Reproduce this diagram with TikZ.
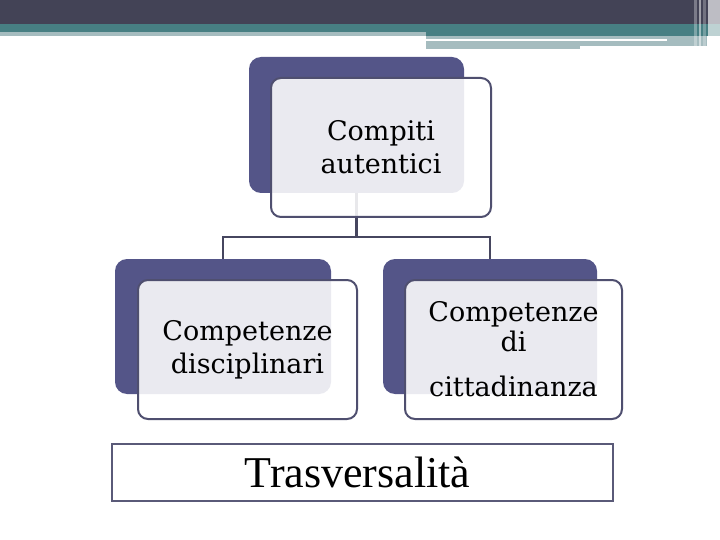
\documentclass[tikz,border=0pt]{standalone}
\usepackage{fontspec}
\setmainfont{DejaVu Serif}
\newfontfamily\timesf{Liberation Serif}
\definecolor{hdrdark}{HTML}{434356}
\definecolor{hdrteal}{HTML}{477F83}
\definecolor{hdrlight}{HTML}{A5BCBF}
\definecolor{backbox}{HTML}{545588}
\definecolor{frontline}{HTML}{4F4F6F}
\definecolor{conn}{HTML}{46465F}
\definecolor{transline}{HTML}{5A5A78}
\tikzset{
  backcard/.style={fill=backbox, rounded corners=12pt, inner sep=0pt},
  frontcard/.style={fill=white, fill opacity=0.88, text opacity=1, draw=frontline, draw opacity=1,
     line width=2pt, rounded corners=10pt, inner sep=0pt, align=center,
     font=\fontsize{27}{33}\selectfont},
  connector/.style={draw=conn, line width=2.7pt},
}
\begin{document}
\begin{tikzpicture}[x=1pt,y=-1pt]
\useasboundingbox (0,0) rectangle (720,540);
\fill[white] (0,0) rectangle (720,540);
% header
\fill[hdrdark] (0,0) rectangle (720,24);
\fill[hdrteal] (0,24) rectangle (426,32);
\fill[hdrlight] (0,32) rectangle (426,36);
\fill[hdrteal] (426,24) rectangle (720,36);
\fill[hdrlight] (426,36) rectangle (707,46);
\fill[white] (426,39) rectangle (667,41);
\fill[hdrlight] (426,46) rectangle (580,49);
\fill[white, opacity=0.3] (694,0) rectangle (697,46);
\fill[white, opacity=0.5] (699,0) rectangle (701,46);
\fill[white, opacity=0.25] (703,0) rectangle (706,46);
\fill[white, opacity=0.65] (708,0) rectangle (720,46);
% back cards
\node[backcard, minimum width=215pt, minimum height=136pt] (tb) at (356.5,125) {};
\node[backcard, minimum width=216pt, minimum height=135pt] (lb) at (223,326.5) {};
\node[backcard, minimum width=214pt, minimum height=135pt] (rb) at (490,326.5) {};
% connectors
\coordinate (bus) at (356.5,237);
\draw[connector] (tb.south) -- (bus);
\draw[connector] (lb.north) |- (bus) -| (rb.north);
% front cards
\node[frontcard, minimum width=220pt, minimum height=139pt] (tf) at (381,147.5) {Compiti\\autentici};
\node[frontcard, minimum width=219pt, minimum height=139pt] (lf) at (247.5,349.5) {Competenze\\disciplinari};
\node[frontcard, minimum width=217pt, minimum height=139pt] (rf) at (513.5,349.5) {Competenze\\[-3pt]di\\[12pt]cittadinanza};
% transversal box
\node[draw=transline, line width=2.8pt, minimum width=501pt, minimum height=57pt, inner sep=0pt,
  font=\timesf\fontsize{44}{50}\selectfont] (tr) at (362.5,472.5) {\hspace*{-10pt}Trasversalità};
\end{tikzpicture}
\end{document}
